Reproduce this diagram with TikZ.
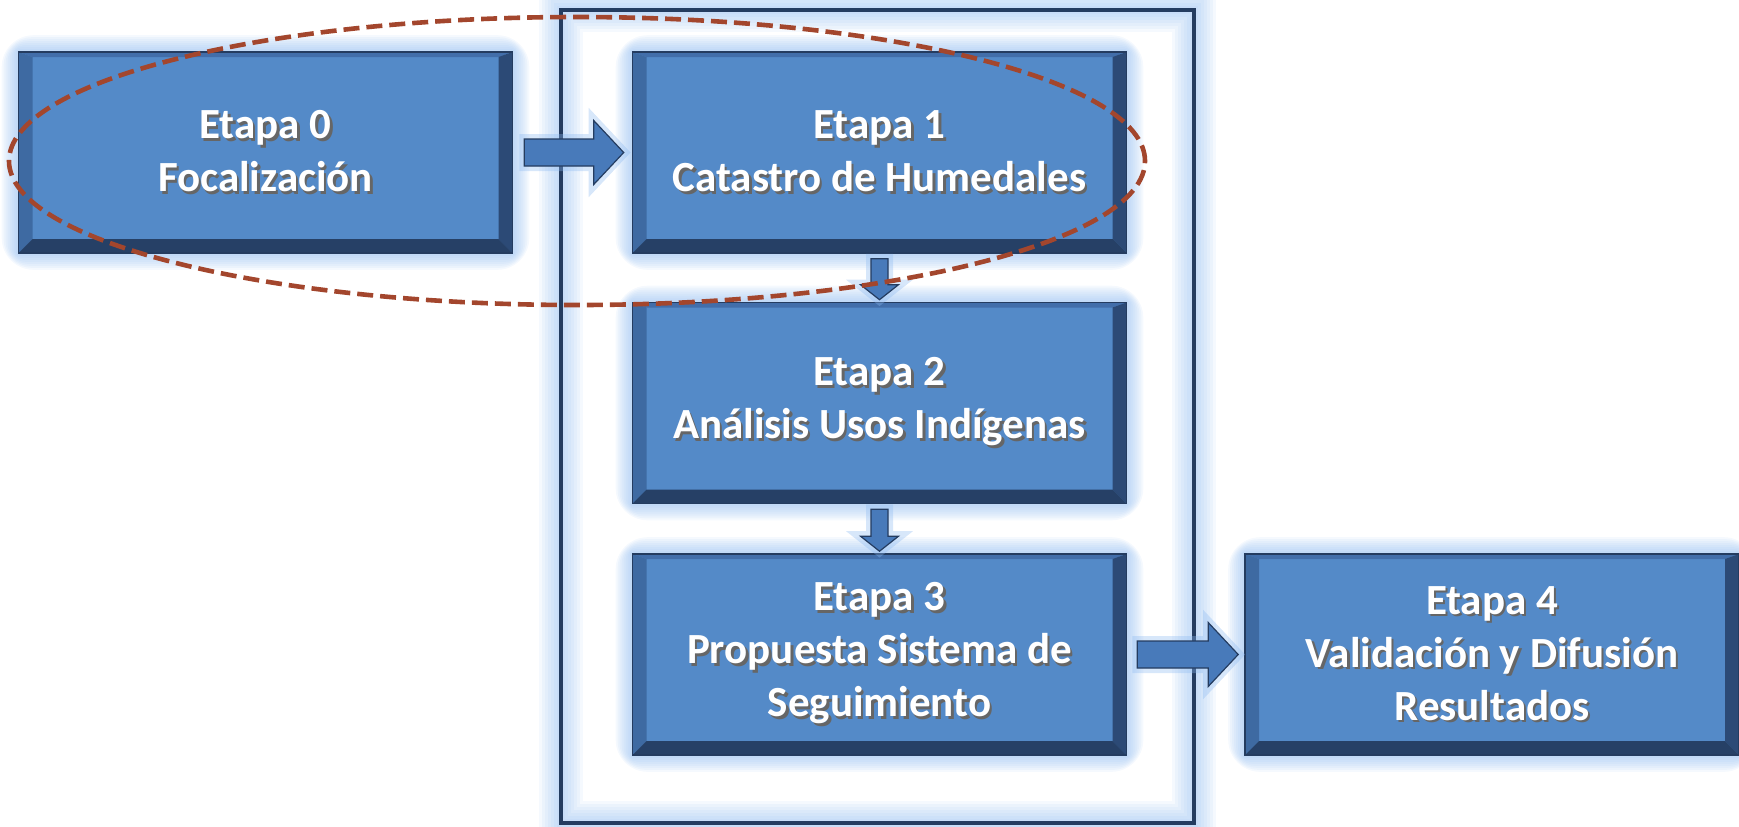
\documentclass[tikz,border=0pt]{standalone}
\usepackage{fontspec}
\setmainfont{Carlito}
\usetikzlibrary{positioning,calc,backgrounds}

\definecolor{caraazul}{RGB}{84,138,200}
\definecolor{bordeazul}{RGB}{36,60,96}
\definecolor{bisizq}{RGB}{62,106,162}
\definecolor{bisder}{RGB}{44,74,118}
\definecolor{bisinf}{RGB}{38,64,102}
\definecolor{bissup}{RGB}{66,110,170}
\definecolor{flechaazul}{RGB}{72,122,186}
\definecolor{glowazul}{RGB}{140,185,240}
\definecolor{elipsecafe}{RGB}{163,70,45}

\newcommand{\sombra}[1]{\makebox[0pt][l]{\hspace{1.2pt}\raisebox{-1.2pt}{\textcolor{black!60}{#1}}}#1}

\tikzset{
  etapa/.style={rectangle, fill=caraazul, draw=bordeazul, line width=0.8pt,
    minimum width=247pt, minimum height=100.5pt, inner sep=0pt,
    align=center, text=white, font=\bfseries\fontsize{21.5}{26.5}\selectfont,
    path picture={
      \coordinate (nw) at (path picture bounding box.north west);
      \coordinate (ne) at (path picture bounding box.north east);
      \coordinate (sw) at (path picture bounding box.south west);
      \coordinate (se) at (path picture bounding box.south east);
      \fill[bissup] (nw) -- ([shift={(14,5)}]nw) -- ([shift={(-14,5)}]ne) -- (ne) -- cycle;
      \fill[bisizq] (nw) -- ([shift={(14,5)}]nw) -- ([shift={(14,-14)}]sw) -- (sw) -- cycle;
      \fill[bisder] (ne) -- ([shift={(-14,5)}]ne) -- ([shift={(-14,-14)}]se) -- (se) -- cycle;
      \fill[bisinf] (sw) -- ([shift={(14,-14)}]sw) -- ([shift={(-14,-14)}]se) -- (se) -- cycle;
    }},
  flecha/.style={fill=flechaazul, draw=bordeazul, line width=0.6pt,
    preaction={draw=glowazul, line width=5pt, opacity=0.35}},
  hbloque/.style={to path={let \p1=(\tikztostart), \p2=(\tikztotarget) in
    (\x1,\y1+6.75pt) -- (\x2-15pt,\y1+6.75pt) -- (\x2-15pt,\y1+16pt) -- (\x2,\y1)
    -- (\x2-15pt,\y1-16pt) -- (\x2-15pt,\y1-6.75pt) -- (\x1,\y1-6.75pt) -- cycle}},
  vbloque/.style={to path={let \p1=(\tikztostart), \p2=(\tikztotarget) in
    (\x1-4.25pt,\y1) -- (\x1-4.25pt,\y2+7.5pt) -- (\x1-9.5pt,\y2+7.5pt) -- (\x1,\y2)
    -- (\x1+9.5pt,\y2+7.5pt) -- (\x1+4.25pt,\y2+7.5pt) -- (\x1+4.25pt,\y1) -- cycle}},
}

\begin{document}
\begin{tikzpicture}[x=0.5pt, y=-0.5pt]
\useasboundingbox (0,0) rectangle (1739,826);

\node[etapa] (b0) at (265.5,152.5) {\sombra{Etapa 0}\\\sombra{Focalización}};
\node[etapa] (b1) at (879.5,152.5) {\sombra{Etapa 1}\\\sombra{Catastro de Humedales}};
\node[etapa] (b2) at (879.5,403) {\sombra{Etapa 2}\\\sombra{Análisis Usos Indígenas}};
\node[etapa] (b3) at (879.5,654.5) {\sombra{Etapa 3}\\\sombra{Propuesta Sistema de}\\\sombra{Seguimiento}};
\node[etapa] (b4) at (1492,654.5) {\sombra{Etapa 4}\\\sombra{Validación y Difusión}\\\sombra{Resultados}};

\begin{scope}[on background layer]
\foreach \n in {b0,b1,b2,b3,b4}
  \foreach \g in {2,4,...,16}
    \fill[glowazul, opacity=0.09, rounded corners=\g pt] ([shift={(-\g,-\g)}]\n.north west) rectangle ([shift={(\g,\g)}]\n.south east);
\foreach \w in {4,7,...,22}
  \draw[glowazul, line width=\w pt, opacity=0.09] (561,10) rectangle (1194,823);
\draw[bordeazul, line width=2pt] (561,10) rectangle (1194,823);
\end{scope}

\draw[flecha, hbloque] ([xshift=5.5pt]b0.east) to ([xshift=-4pt]b1.west);
\draw[flecha, vbloque] ([yshift=-2.5pt]b1.south) to ([yshift=1pt]b2.north);
\draw[flecha, vbloque] ([yshift=-2.5pt]b2.south) to ([yshift=1pt]b3.north);
\draw[flecha, hbloque] ([xshift=5pt]b3.east) to ([xshift=-3pt]b4.west);

\draw[elipsecafe, line width=2.3pt, dash pattern=on 8pt off 3.5pt] (577,161) ellipse [x radius=284pt, y radius=72pt];
\end{tikzpicture}
\end{document}
